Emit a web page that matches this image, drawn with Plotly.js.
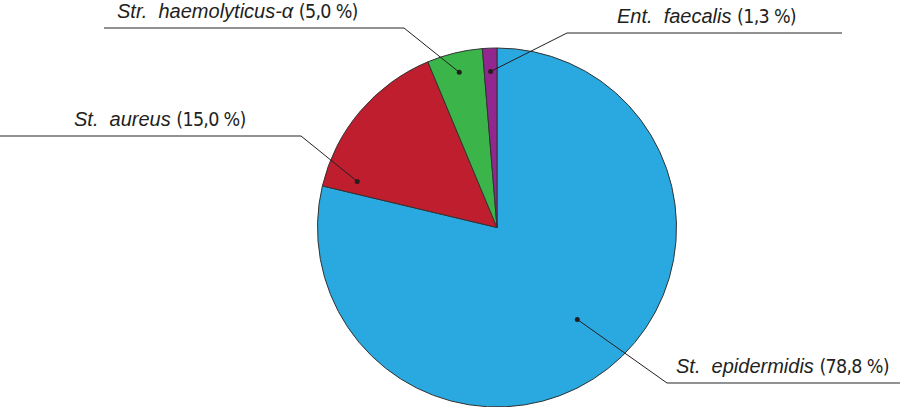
<!DOCTYPE html>
<html><head><meta charset="utf-8">
<script src="https://cdn.plot.ly/plotly-3.0.1.min.js"></script>
<style>html,body{margin:0;padding:0;background:#fff}</style>
</head><body>
<div id="chart" style="width:900px;height:407px"></div>
<script>
// Data
const species = ["St. epidermidis", "St. aureus", "Str. haemolyticus-α", "Ent. faecalis"];
const shares = [78.8, 15.0, 5.0, 1.3];
const percentLabels = ["78,8 %", "15,0 %", "5,0 %", "1,3 %"];
const colors = ["#29a9e0", "#be1e2d", "#3bb54a", "#92278f"];

// Layout (pixel) settings for the callouts
const W = 900, H = 407, MT = 48, MB = 0;
const CX = 497, CY = MT + (H - MT - MB) / 2, R = (H - MT - MB) / 2;
const dotSliceFrac = [0.49, 0.09, 0.5, 0.5];
const dotRadFrac = [0.68, 0.82, 0.89, 0.87];
const elbow = [[667, 383], [301, 136], [404, 28], [567, 33]];
const lineEnd = [900, 0, 104, 842];
const textLeft = [674, 72, 115, 615];

const px = x => x / W;
const py = y => (H - MB - y) / (H - MT - MB);

const total = shares.reduce((a, b) => a + b, 0);
const shapes = [], annotations = [];
let cum = 0;
shares.forEach((v, i) => {
  const theta = (cum + v * dotSliceFrac[i]) / total * 2 * Math.PI;
  cum += v;
  const r = R * dotRadFrac[i];
  const dx = CX + r * Math.sin(theta), dy = CY - r * Math.cos(theta);
  const [ex, ey] = elbow[i];
  shapes.push({type: "line", xref: "paper", yref: "paper", x0: px(dx), y0: py(dy), x1: px(ex), y1: py(ey),
    line: {color: "#231f20", width: 1}});
  shapes.push({type: "line", xref: "paper", yref: "paper", x0: px(ex), y0: py(ey), x1: px(lineEnd[i]), y1: py(ey),
    line: {color: "#6d6e71", width: 1.5}});
  shapes.push({type: "circle", xref: "paper", yref: "paper", xsizemode: "pixel", ysizemode: "pixel",
    xanchor: px(dx), yanchor: py(dy), x0: -2.5, x1: 2.5, y0: -2.5, y1: 2.5,
    fillcolor: "#231f20", line: {width: 0}});
  annotations.push({xref: "paper", yref: "paper", x: px(textLeft[i]), y: py(ey - 3),
    xanchor: "left", yanchor: "bottom", showarrow: false,
    text: "<i>" + species[i].replace(" ", "  ") + "</i> <span style=\"font-family:'DejaVu Sans Condensed','DejaVu Sans',sans-serif;font-stretch:condensed;font-size:19.5px;letter-spacing:-0.7px\">(" + percentLabels[i] + ")</span>",
    font: {family: "Liberation Sans, Arial, sans-serif", size: 20, color: "#231f20"}});
});

const trace = {
  type: "pie", values: shares, labels: species, sort: false, direction: "clockwise", rotation: 0,
  marker: {colors: colors, line: {color: "#333333", width: 1}},
  textinfo: "none", hoverinfo: "none", showlegend: false,
  domain: {x: [px(CX - R), px(CX + R)], y: [0, 1]}
};

Plotly.newPlot("chart", [trace], {
  width: W, height: H, margin: {l: 0, r: 0, t: MT, b: MB},
  paper_bgcolor: "#ffffff", plot_bgcolor: "#ffffff",
  shapes: shapes, annotations: annotations, showlegend: false
}, {displayModeBar: false, staticPlot: true});
</script>
</body></html>
